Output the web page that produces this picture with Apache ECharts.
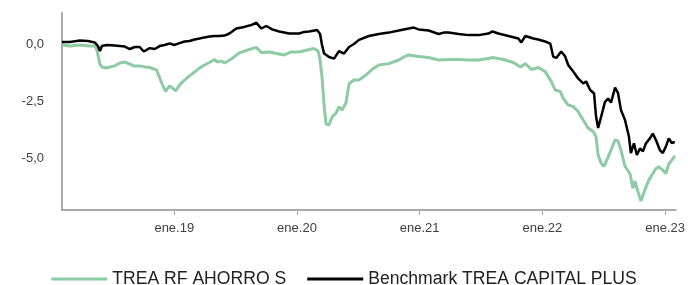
<!DOCTYPE html>
<html>
<head>
<meta charset="utf-8">
<script src="https://cdn.jsdelivr.net/npm/echarts@6/dist/echarts.min.js"></script>
<style>
  html, body { margin: 0; padding: 0; background: #fff; }
  #chart { width: 688px; height: 285px; }
</style>
</head>
<body>
<div id="chart"></div>
<script>
// fechas en años decimales
var fundYears = [
    2018.085, 2018.150, 2018.231, 2018.312, 2018.353, 2018.369, 2018.394, 2018.410, 2018.442, 2018.475,
    2018.515, 2018.556, 2018.597, 2018.637, 2018.670, 2018.718, 2018.759, 2018.800, 2018.856, 2018.881,
    2018.905, 2018.929, 2018.962, 2018.986, 2019.011, 2019.043, 2019.084, 2019.124, 2019.165, 2019.206,
    2019.246, 2019.287, 2019.327, 2019.352, 2019.384, 2019.409, 2019.465, 2019.530, 2019.571, 2019.612,
    2019.668, 2019.709, 2019.774, 2019.855, 2019.896, 2019.953, 2020.018, 2020.099, 2020.139, 2020.172,
    2020.188, 2020.204, 2020.221, 2020.237, 2020.261, 2020.286, 2020.318, 2020.342, 2020.367, 2020.399,
    2020.424, 2020.464, 2020.505, 2020.562, 2020.610, 2020.667, 2020.748, 2020.830, 2020.870, 2020.911,
    2020.992, 2021.073, 2021.154, 2021.236, 2021.317, 2021.398, 2021.479, 2021.560, 2021.593, 2021.682,
    2021.763, 2021.820, 2021.861, 2021.910, 2021.966, 2022.023, 2022.072, 2022.104, 2022.145, 2022.169,
    2022.210, 2022.251, 2022.291, 2022.332, 2022.372, 2022.413, 2022.437, 2022.454, 2022.478, 2022.502,
    2022.535, 2022.559, 2022.592, 2022.616, 2022.640, 2022.673, 2022.713, 2022.738, 2022.754, 2022.778,
    2022.803, 2022.835, 2022.868, 2022.900, 2022.925, 2022.949, 2022.981, 2023.006, 2023.030, 2023.054,
    2023.079
];
var fundValues = [
    -0.04, -0.09, -0.04, -0.09, -0.09, -0.26, -0.88, -1.01, -1.05, -1.01,
    -0.96, -0.83, -0.79, -0.88, -0.96, -0.96, -1.01, -1.03, -1.14, -1.49,
    -1.80, -2.08, -1.84, -1.93, -2.06, -1.80, -1.58, -1.40, -1.23, -1.05,
    -0.92, -0.81, -0.68, -0.79, -0.75, -0.83, -0.66, -0.39, -0.31, -0.24,
    -0.15, -0.37, -0.35, -0.44, -0.48, -0.35, -0.35, -0.24, -0.20, -0.31,
    -0.70, -1.45, -2.68, -3.51, -3.55, -3.20, -3.03, -2.76, -2.89, -2.59,
    -1.75, -1.58, -1.58, -1.36, -1.12, -0.92, -0.86, -0.70, -0.57, -0.48,
    -0.55, -0.59, -0.70, -0.68, -0.68, -0.70, -0.70, -0.64, -0.59, -0.68,
    -0.81, -1.01, -0.86, -1.12, -1.03, -1.21, -1.64, -2.02, -2.08, -2.37,
    -2.68, -2.74, -2.96, -3.33, -3.68, -3.84, -4.06, -4.87, -5.22, -5.37,
    -4.96, -4.65, -4.21, -4.25, -4.65, -5.37, -5.68, -6.32, -6.01, -6.47,
    -6.89, -6.40, -5.96, -5.68, -5.46, -5.39, -5.53, -5.68, -5.26, -5.09,
    -4.91
];
var benchYears = [
    2018.085, 2018.150, 2018.231, 2018.296, 2018.353, 2018.377, 2018.394, 2018.410, 2018.450, 2018.515,
    2018.556, 2018.597, 2018.637, 2018.678, 2018.718, 2018.751, 2018.800, 2018.840, 2018.881, 2018.921,
    2018.962, 2019.003, 2019.043, 2019.084, 2019.124, 2019.165, 2019.206, 2019.246, 2019.287, 2019.327,
    2019.368, 2019.409, 2019.449, 2019.506, 2019.571, 2019.628, 2019.668, 2019.709, 2019.750, 2019.798,
    2019.855, 2019.936, 2020.018, 2020.058, 2020.099, 2020.164, 2020.188, 2020.204, 2020.221, 2020.261,
    2020.302, 2020.342, 2020.383, 2020.424, 2020.464, 2020.505, 2020.586, 2020.667, 2020.748, 2020.830,
    2020.911, 2020.951, 2020.992, 2021.073, 2021.154, 2021.195, 2021.236, 2021.317, 2021.398, 2021.479,
    2021.560, 2021.593, 2021.641, 2021.723, 2021.804, 2021.828, 2021.861, 2021.926, 2021.966, 2022.023,
    2022.064, 2022.088, 2022.113, 2022.153, 2022.186, 2022.210, 2022.251, 2022.291, 2022.332, 2022.356,
    2022.389, 2022.421, 2022.437, 2022.454, 2022.478, 2022.510, 2022.535, 2022.559, 2022.592, 2022.616,
    2022.640, 2022.673, 2022.705, 2022.721, 2022.746, 2022.770, 2022.795, 2022.819, 2022.843, 2022.876,
    2022.900, 2022.925, 2022.957, 2022.981, 2023.006, 2023.030, 2023.054, 2023.079
];
var benchValues = [
    0.09, 0.09, 0.15, 0.13, 0.07, -0.09, -0.31, -0.09, -0.04, -0.07,
    -0.09, -0.11, -0.22, -0.13, -0.13, -0.33, -0.18, -0.22, -0.09, -0.04,
    0.02, -0.04, 0.04, 0.11, 0.13, 0.20, 0.24, 0.29, 0.33, 0.35,
    0.35, 0.37, 0.46, 0.68, 0.75, 0.83, 0.94, 0.68, 0.79, 0.64,
    0.55, 0.46, 0.46, 0.53, 0.55, 0.61, 0.44, -0.04, -0.42, -0.57,
    -0.64, -0.31, -0.42, -0.13, 0.00, 0.18, 0.35, 0.44, 0.50, 0.59,
    0.68, 0.72, 0.64, 0.59, 0.44, 0.50, 0.50, 0.44, 0.39, 0.39,
    0.46, 0.55, 0.46, 0.35, 0.24, 0.07, 0.35, 0.24, 0.20, 0.11,
    0.02, -0.55, -0.61, -0.33, -0.55, -0.92, -1.21, -1.51, -1.73, -1.64,
    -2.02, -2.17, -3.18, -3.68, -3.20, -2.54, -2.39, -2.57, -1.91, -2.15,
    -2.89, -3.33, -4.06, -4.78, -4.36, -4.87, -4.58, -4.71, -4.36, -4.14,
    -3.93, -4.21, -4.65, -4.78, -4.50, -4.14, -4.34, -4.30
];
var yearTicks = [2019, 2020, 2021, 2022, 2023];
var valueTicks = [0, -2.5, -5];
var seriesNames = ['TREA RF AHORRO S', 'Benchmark TREA CAPITAL PLUS'];

function pairs(xs, ys) {
    return xs.map(function (x, i) { return [x, ys[i]]; });
}

var chart = echarts.init(document.getElementById('chart'));
chart.setOption({
    animation: false,
    grid: { left: 62, right: 10, top: 13, bottom: 75 },
    legend: {
        top: 265,
        left: 'center',
        icon: 'rect',
        itemWidth: 56,
        itemHeight: 3,
        itemGap: 21,
        textStyle: { fontFamily: 'Liberation Sans', fontSize: 17.6, color: '#222' },
        data: seriesNames
    },
    xAxis: {
        type: 'value',
        min: 2018.085,
        max: 2023.087,
        splitLine: { show: false },
        axisLine: { onZero: false, lineStyle: { color: '#aaa', width: 2 } },
        axisTick: { customValues: yearTicks, length: 5, lineStyle: { color: '#aaa' } },
        axisLabel: {
            customValues: yearTicks,
            margin: 12,
            fontFamily: 'Liberation Sans',
            fontSize: 13,
            color: '#404040',
            formatter: function (v) { return 'ene.' + String(v).slice(2); }
        }
    },
    yAxis: {
        type: 'value',
        min: -7.28,
        max: 1.36,
        splitLine: { show: false },
        axisLine: { show: true, onZero: false, lineStyle: { color: '#aaa', width: 2 } },
        axisTick: { show: false },
        axisLabel: {
            customValues: valueTicks,
            margin: 18,
            fontFamily: 'Liberation Sans',
            fontSize: 13,
            color: '#404040',
            formatter: function (v) { return v.toFixed(1).replace('.', ','); }
        }
    },
    series: [
        {
            name: seriesNames[0],
            type: 'line',
            showSymbol: false,
            data: pairs(fundYears, fundValues),
            lineStyle: { color: '#8dcba4', width: 3 },
            itemStyle: { color: '#8dcba4' }
        },
        {
            name: seriesNames[1],
            type: 'line',
            showSymbol: false,
            data: pairs(benchYears, benchValues),
            lineStyle: { color: '#000', width: 2.5 },
            itemStyle: { color: '#000' }
        }
    ]
});
</script>
</body>
</html>
